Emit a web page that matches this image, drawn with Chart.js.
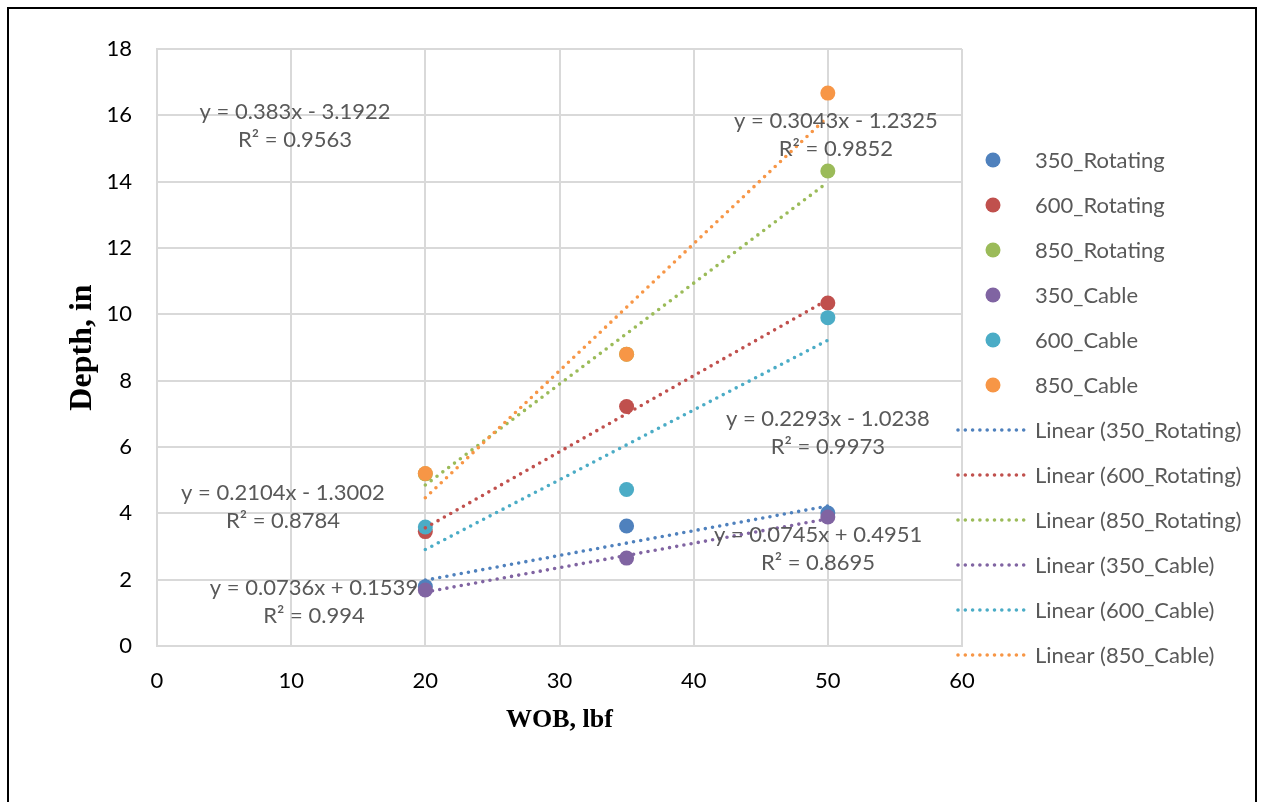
<!DOCTYPE html>
<html>
<head>
<meta charset="utf-8">
<script src="https://cdn.jsdelivr.net/npm/chart.js@4.4.0/dist/chart.umd.min.js"></script>
<style>
body{margin:0;background:#fff;overflow:hidden}
#frame{position:absolute;left:7px;top:7px;width:1246px;height:830px;border:2px solid #000}
canvas{position:absolute;left:0;top:0}
</style>
</head>
<body>
<div id="frame"></div>
<canvas id="depth" width="1261" height="802"></canvas>
<script>
const wob = [20, 35, 50]
const rot350 = [1.79, 3.62, 4.01]
const rot600 = [3.45, 7.22, 10.34]
const rot850 = [5.19, 8.8, 14.32]
const cab350 = [1.69, 2.65, 3.89]
const cab600 = [3.59, 4.72, 9.9]
const cab850 = [5.2, 8.8, 16.67]

const names = ['350_Rotating','600_Rotating','850_Rotating','350_Cable','600_Cable','850_Cable']
const colors = ['#4F81BD','#C0504D','#9BBB59','#8064A2','#4BACC6','#F79646']

// fitted trendlines, as printed on the chart
const slopes = [0.0745, 0.2293, 0.3043, 0.0736, 0.2104, 0.383]
const intercepts = [0.4951, -1.0238, -1.2325, 0.1539, -1.3002, -3.1922]
const rsq = [0.8695, 0.9973, 0.9852, 0.994, 0.8784, 0.9563]

// where each equation box sits (axis units)
const labelAt = [[49.27,2.92],[50.0,6.44],[50.6,15.42],[11.7,1.34],[9.39,4.19],[10.29,15.68]]

const series = [rot350, rot600, rot850, cab350, cab600, cab850]
const FONT = 'Lato'

const pointSets = series.map((vals, i) => ({
    label: names[i],
    data: vals.map((v, k) => ({x: wob[k], y: v})),
    backgroundColor: colors[i],
    borderColor: colors[i],
    pointRadius: 7.5,
    pointBorderWidth: 0,
    showLine: false,
    order: 20 - i
}))

const x0 = Math.min(...wob), x1 = Math.max(...wob)
const trendSets = slopes.map((m, i) => ({
    label: 'Linear (' + names[i] + ')',
    data: [{x: x0, y: m * x0 + intercepts[i]}, {x: x1, y: m * x1 + intercepts[i]}],
    borderColor: colors[i],
    borderWidth: 3.6,
    borderDash: [0, 7.3],
    borderCapStyle: 'round',
    pointRadius: 0,
    showLine: true,
    order: 10 - i
}))

function equation(i) {
    const b = intercepts[i]
    return 'y = ' + slopes[i] + 'x ' + (b < 0 ? '- ' : '+ ') + Math.abs(b)
}

const trendLabels = {
    id: 'trendLabels',
    afterDatasetsDraw(chart) {
        const {ctx, scales: {x, y}} = chart
        ctx.save()
        ctx.font = '22px ' + FONT
        ctx.fillStyle = '#595959'
        ctx.textAlign = 'center'
        ctx.textBaseline = 'middle'
        labelAt.forEach((p, i) => {
            const px = x.getPixelForValue(p[0]), py = y.getPixelForValue(p[1])
            ctx.fillText(equation(i), px, py - 14)
            ctx.fillText('R\u00B2 = ' + rsq[i], px, py + 14)
        })
        ctx.restore()
    }
}

// legend on the right: markers first, then the dotted trendlines
const sideLegend = {
    id: 'sideLegend',
    afterDraw(chart) {
        const ctx = chart.ctx, r = chart.chartArea.right
        ctx.save()
        ctx.font = '22px ' + FONT
        ctx.textBaseline = 'middle'
        ctx.textAlign = 'left'
        chart.data.datasets.forEach((ds, i) => {
            const yy = 160 + i * 45
            if (ds.showLine) {
                ctx.strokeStyle = ds.borderColor
                ctx.lineWidth = 3.6
                ctx.lineCap = 'round'
                ctx.setLineDash([0, 7.3])
                ctx.beginPath()
                ctx.moveTo(r - 4, yy)
                ctx.lineTo(r + 63, yy)
                ctx.stroke()
                ctx.setLineDash([])
            } else {
                ctx.fillStyle = ds.backgroundColor
                ctx.beginPath()
                ctx.arc(r + 31, yy, 7.5, 0, Math.PI * 2)
                ctx.fill()
            }
            ctx.fillStyle = '#595959'
            ctx.fillText(ds.label, r + 73, yy + 1)
        })
        ctx.restore()
    }
}

new Chart(document.getElementById('depth'), {
    type: 'scatter',
    data: {datasets: [...pointSets, ...trendSets]},
    plugins: [trendLabels, sideLegend],
    options: {
        responsive: false,
        animation: false,
        layout: {padding: {left: 0, top: 49, right: 299, bottom: 0}},
        plugins: {legend: {display: false}, tooltip: {enabled: false}},
        scales: {
            x: {
                type: 'linear', min: 0, max: 60,
                ticks: {stepSize: 10, color: '#000', font: {family: FONT, size: 22}, padding: 22},
                grid: {color: '#d9d9d9', lineWidth: 2, drawTicks: false},
                border: {color: '#d9d9d9', width: 2},
                title: {display: true, text: 'WOB, lbf', color: '#000',
                    font: {family: 'Liberation Serif', size: 26, weight: 'bold'}, padding: {top: 0, bottom: 66}},
                afterFit(s) { s.height = 156 }
            },
            y: {
                type: 'linear', min: 0, max: 18,
                ticks: {stepSize: 2, color: '#000', font: {family: FONT, size: 22}, padding: 25},
                grid: {color: '#d9d9d9', lineWidth: 2, drawTicks: false},
                border: {color: '#d9d9d9', width: 2},
                title: {display: true, text: 'Depth, in', color: '#000',
                    font: {family: 'Liberation Serif', size: 32, weight: 'bold'}, padding: {top: 64, bottom: 0}},
                afterFit(s) { s.width = 157 }
            }
        }
    }
})
</script>
</body>
</html>
